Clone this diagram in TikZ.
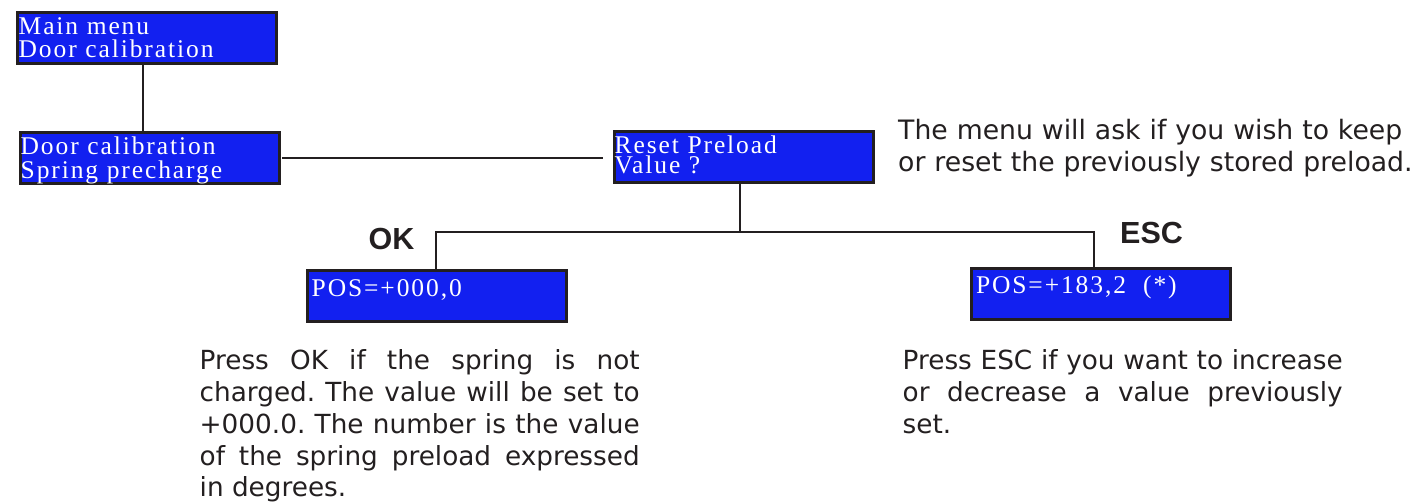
\documentclass[tikz,border=0pt]{standalone}
\usepackage{fontspec}
\newfontfamily\lcdfont[LetterSpace=7.5]{Liberation Serif}
\newfontfamily\notefont{DejaVu Sans}
\newfontfamily\keyfont{Liberation Sans}
\usepackage{xcolor}
\definecolor{lcdblue}{RGB}{18,32,240}
\definecolor{framegray}{RGB}{35,31,32}
\usetikzlibrary{positioning, calc}
\hyphenpenalty=10000
\exhyphenpenalty=10000
\frenchspacing

\begin{document}
\begin{tikzpicture}[
    x=1pt, y=-1pt,
    lcdbox/.style={draw=framegray, line width=3pt, fill=lcdblue, minimum width=259pt, minimum height=51pt, inner sep=0pt},
    lcdtext/.style={text=white, inner sep=0pt, anchor=base west, text width=250pt, align=left, font=\lcdfont\fontsize{25.5}{23.5}\selectfont},
    notetext/.style={text=framegray, inner sep=0pt, anchor=base west, text width=440pt, align=justify, font=\notefont\fontsize{26.3}{31.7}\selectfont},
    keylabel/.style={text=framegray, inner sep=0pt, anchor=base west, font=\keyfont\bfseries\fontsize{30.5}{30}\selectfont},
    link/.style={draw=framegray, line width=2pt}
  ]
  \useasboundingbox (0,0) rectangle (1413,502);

  % display boxes
  \node (menu) [lcdbox] at (146.5,38.5) {};
  \node (spring) [lcdbox] at (149.5,158) {};
  \node (reset) [lcdbox] at (743.5,157.5) {};
  \node (posok) [lcdbox] at (437,296) {};
  \node (posesc) [lcdbox] at (1100.8,294) {};

  % display texts
  \node (menutxt) [lcdtext] at ([xshift=3pt, yshift=-23pt]menu.north west) {Main menu\\Door calibration};
  \node (springtxt) [lcdtext] at ([xshift=2pt, yshift=-23.8pt]spring.north west) {Door calibration\\Spring precharge};
  \node (resettxt) [lcdtext, font=\lcdfont\fontsize{25.5}{20}\selectfont] at ([xshift=2pt, yshift=-22.8pt]reset.north west) {Reset Preload\\Value ?};
  \node (posoktxt) [lcdtext] at ([xshift=5.5pt, yshift=-28pt]posok.north west) {POS=+000,0};
  \node (posesctxt) [lcdtext] at ([xshift=6pt, yshift=-26.2pt]posesc.north west) {POS=+183,2\ \ (*)};

  % key labels
  \node (oklbl) [keylabel] at (368.5,250) {OK};
  \node (esclbl) [keylabel] at (1120,243.3) {ESC};

  % notes
  \node (asknote) [notetext, align=left, text width=560pt, font=\notefont\fontsize{26.7}{31.7}\selectfont] at (898,140) {The menu will ask if you wish to keep\\or reset the previously stored preload.};
  \node (oknote) [notetext] at (199.5,370) {Press OK if the spring is not\linebreak charged. The value will be set to\linebreak +000.0. The number is the value\linebreak of the spring preload expressed\linebreak in degrees.};
  \node (escnote) [notetext] at (902.5,370) {Press ESC if you want to increase\linebreak or decrease a value previously\linebreak set.};

  % connectors
  \coordinate (drop) at ([xshift=-4pt]menu.south);
  \coordinate (bus) at (739.5,231.7);
  \draw[link] (drop) -- (drop |- spring.north);
  \draw[link, shorten <=1.5pt, shorten >=10pt] (spring.east) -- (spring.east -| reset.west);
  \draw[link] (bus |- reset.south) -- (bus);
  \draw[link] ([xshift=-1.5pt]posok.north) |- (bus) -| ([xshift=-6.8pt]posesc.north);

\end{tikzpicture}
\end{document}
